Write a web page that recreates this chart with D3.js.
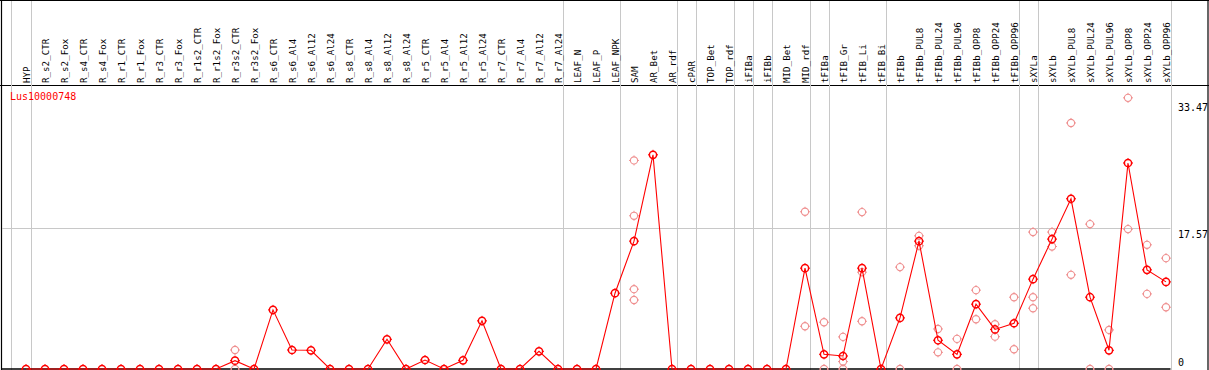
<!DOCTYPE html>
<html>
<head>
<meta charset="utf-8">
<script src="https://cdn.jsdelivr.net/npm/d3@7"></script>
<style>
  html, body { margin: 0; padding: 0; background: #fff; }
  svg { display: block; }
  text { font-family: "DejaVu Sans Mono", monospace; }
</style>
</head>
<body>
<script>
const categories = ["HYP","R_s2_CTR","R_s2_Fox","R_s4_CTR","R_s4_Fox","R_r1_CTR","R_r1_Fox","R_r3_CTR","R_r3_Fox","R_r1s2_CTR","R_r1s2_Fox","R_r3s2_CTR","R_r3s2_Fox","R_s6_CTR","R_s6_Al4","R_s6_Al12","R_s6_Al24","R_s8_CTR","R_s8_Al4","R_s8_Al12","R_s8_Al24","R_r5_CTR","R_r5_Al4","R_r5_Al12","R_r5_Al24","R_r7_CTR","R_r7_Al4","R_r7_Al12","R_r7_Al24","LEAF_N","LEAF_P","LEAF_NPK","SAM","AR_Bet","AR_rdf","cPAR","TOP_Bet","TOP_rdf","iFIBa","iFIBb","MID_Bet","MID_rdf","tFIBa","tFIB_Gr","tFIB_Li","tFIB_Bi","tFIBb","tFIBb_PUL8","tFIBb_PUL24","tFIBb_PUL96","tFIBb_OPP8","tFIBb_OPP24","tFIBb_OPP96","sXYLa","sXYLb","sXYLb_PUL8","sXYLb_PUL24","sXYLb_PUL96","sXYLb_OPP8","sXYLb_OPP24","sXYLb_OPP96"];

const means = [0,0,0,0,0,0,0,0,0,0,0,1.04,0,7.37,2.37,2.33,0,0,0,3.7,0,1.12,0,1.08,6.0,0,0,2.2,0,0,0,9.45,15.94,26.7,0,0,0,0,0,0,0,12.57,1.83,1.62,12.57,0,6.37,15.94,3.58,1.83,8.08,4.93,5.7,11.2,16.19,21.22,8.95,2.33,25.68,12.36,10.86];

const replicates = [[],[],[],[],[],[],[],[],[],[],[],[2.37,0],[],[],[],[],[],[],[],[],[],[],[],[],[],[],[],[],[],[],[],[],[26.0,19.1,9.95,8.6],[],[],[],[],[],[],[],[],[19.6,5.33],[5.83,0],[4.0,0.92,0],[19.56,12.07,5.95],[],[12.7,0],[16.6,15.36],[4.99,2.08],[3.75,0],[9.83,6.2],[5.58,4.03],[8.95,2.46],[17.07,8.95,7.58],[17.07,15.27],[30.67,11.74],[18.06,0],[4.87,0],[33.8,17.44],[15.48,9.36],[13.82,7.7]];

const separatorsAfter = ["HYP","R_r7_Al24","LEAF_NPK","AR_rdf","cPAR","TOP_rdf","iFIBa","iFIBb","MID_rdf","tFIBa","tFIB_Bi","tFIBb_OPP96","sXYLa","sXYLb_OPP96"];
const yTicks = [0, 17.57, 33.47];
const geneTitle = "Lus10000748";

const W = 1209, H = 370;
const svg = d3.select("body").append("svg").attr("width", W).attr("height", H);

const x = d3.scalePoint().domain(categories).range([26, 1166]);
const step = x.step();
const y = d3.scaleLinear().domain([0, 33.47]).range([369, 100.5]);

// frame
const frame = svg.append("g").attr("stroke", "#000").attr("stroke-width", 1.2).attr("fill", "none");
frame.append("line").attr("x1", 0).attr("x2", W).attr("y1", 0.5).attr("y2", 0.5);
frame.append("line").attr("x1", 0).attr("x2", W).attr("y1", 85.5).attr("y2", 85.5);
frame.append("line").attr("x1", 1.5).attr("x2", 1.5).attr("y1", 0).attr("y2", H);
frame.append("line").attr("x1", 1208).attr("x2", 1208).attr("y1", 0).attr("y2", H);

// grid
const grid = svg.append("g").attr("stroke", "#c8c8c8").attr("stroke-width", 1);
grid.append("line")
  .attr("x1", 2).attr("x2", x(categories[categories.length - 1]) + 4.5)
  .attr("y1", Math.round(y(17.57)) + 0.5).attr("y2", Math.round(y(17.57)) + 0.5);
const sepXs = [x(categories[0]) - step + 4].concat(separatorsAfter.map(c => x(c) + 4.5));
grid.selectAll("line.sep").data(sepXs).join("line").attr("class", "sep")
  .attr("x1", d => Math.round(d) + 0.5).attr("x2", d => Math.round(d) + 0.5)
  .attr("y1", 1).attr("y2", H);

// baseline
svg.append("line").attr("x1", 2).attr("x2", x(categories[categories.length - 1]) + 4.5)
  .attr("y1", 369).attr("y2", 369).attr("stroke", "#000").attr("stroke-width", 1.5);

// category labels
svg.append("g").selectAll("text").data(categories).join("text")
  .attr("transform", d => `translate(${x(d) + 3.5},83) rotate(-90)`)
  .attr("font-size", 9.2).attr("fill", "#000")
  .text(d => d);

// title
svg.append("text").attr("x", 10).attr("y", 100).attr("font-size", 10).attr("fill", "#ff0000").text(geneTitle);

// right tick labels
svg.append("g").selectAll("text").data(yTicks).join("text")
  .attr("x", 1178)
  .attr("y", d => d === 0 ? 366 : y(d) + 10)
  .attr("font-size", 10).attr("fill", "#000")
  .text(d => d === 0 ? "0" : d3.format(".2f")(d));

// marker path: circle with small ticks
function marker(g, cx, cy, color, sw) {
  const m = g.append("g").attr("transform", `translate(${cx},${cy})`).attr("stroke", color).attr("fill", "none").attr("stroke-width", sw);
  m.append("circle").attr("r", 3.6);
  m.append("path").attr("d", "M0,-3.6V-5M0,3.6V5M-3.6,0H-5M3.6,0H5").attr("stroke-width", 1);
}

// replicates
const repG = svg.append("g");
replicates.forEach((arr, i) => {
  arr.forEach(v => marker(repG, x(categories[i]), y(v), "#ef8f8f", 1.1));
});

// mean line
svg.append("path")
  .datum(means)
  .attr("fill", "none").attr("stroke", "#ff0000").attr("stroke-width", 1.1)
  .attr("d", d3.line().x((d, i) => x(categories[i])).y(d => y(d)));

// mean markers
const meanG = svg.append("g");
means.forEach((v, i) => marker(meanG, x(categories[i]), y(v), "#ff0000", 1.5));
</script>
</body>
</html>
